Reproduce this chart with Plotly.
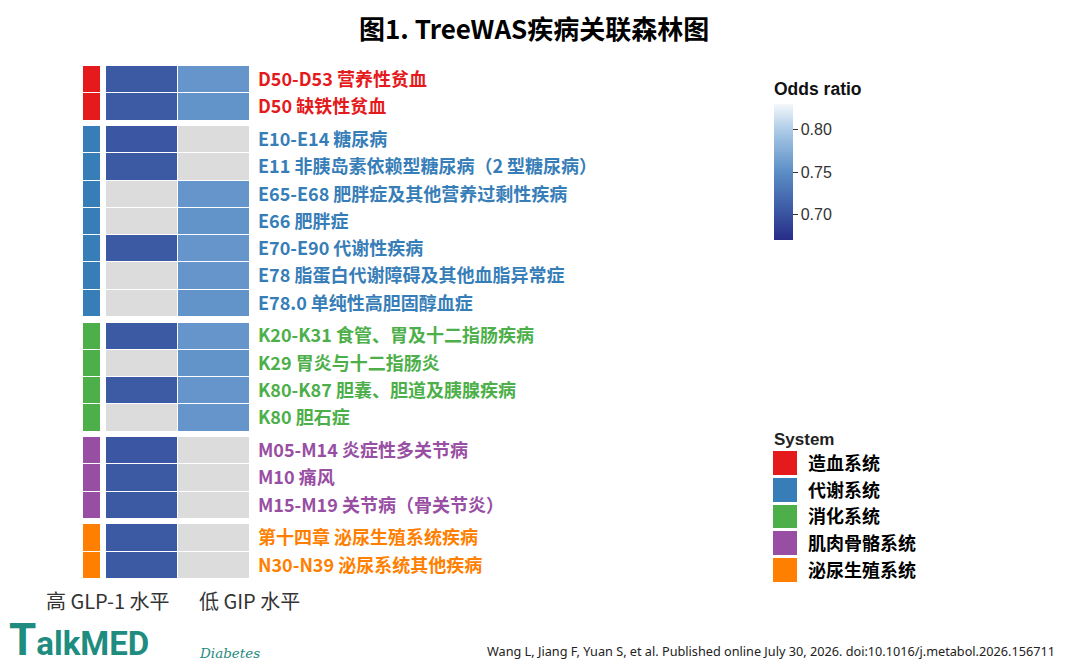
import plotly.graph_objects as go

# ---- data ----
systems = ["造血系统", "代谢系统", "消化系统", "肌肉骨骼系统", "泌尿生殖系统"]
system_colors = ["#e41a1c", "#377eb8", "#4daf4a", "#984ea3", "#ff7f00"]

diseases = [
    "D50-D53 营养性贫血",
    "D50 缺铁性贫血",
    "E10-E14 糖尿病",
    "E11 非胰岛素依赖型糖尿病（2 型糖尿病）",
    "E65-E68 肥胖症及其他营养过剩性疾病",
    "E66 肥胖症",
    "E70-E90 代谢性疾病",
    "E78 脂蛋白代谢障碍及其他血脂异常症",
    "E78.0 单纯性高胆固醇血症",
    "K20-K31 食管、胃及十二指肠疾病",
    "K29 胃炎与十二指肠炎",
    "K80-K87 胆囊、胆道及胰腺疾病",
    "K80 胆石症",
    "M05-M14 炎症性多关节病",
    "M10 痛风",
    "M15-M19 关节病（骨关节炎）",
    "第十四章 泌尿生殖系统疾病",
    "N30-N39 泌尿系统其他疾病",
]
disease_system = [0, 0, 1, 1, 1, 1, 1, 1, 1, 2, 2, 2, 2, 3, 3, 3, 4, 4]

exposures = ["高 GLP-1 水平", "低 GIP 水平"]
or_glp1 = [0.705, 0.706, 0.704, 0.705, None, None, 0.705, None, None,
           0.705, None, 0.706, None, 0.704, 0.705, 0.705, 0.705, 0.705]
or_gip = [0.756, 0.755, None, None, 0.756, 0.755, 0.756, 0.756, 0.755,
          0.756, 0.755, 0.756, 0.756, None, None, None, None, None]

or_ticks = [0.70, 0.75, 0.80]
or_range = [0.67, 0.83]

title = "图1. TreeWAS疾病关联森林图"
citation = "Wang L, Jiang F, Yuan S, et al. Published online July 30, 2026. doi:10.1016/j.metabol.2026.156711"

# ---- layout helpers ----
# page body has an 8px margin, so the figure is drawn 8px in from the corner
OFF = 8
W, H = 1067 - OFF, 668 - OFF
GAP = 0.2  # gap between system groups, in row units
FONT = "Noto Sans CJK SC, Noto Sans, sans-serif"
ARIAL = "Liberation Sans, Arial, sans-serif"


def px_x(p):
    return (p - OFF) / W


def px_y(p):
    return 1 - (p - OFF) / H


# build row edges with small blank rows between groups
edges = [0.0]
z_main, z_na, z_sys, centers = [], [], [], []
prev = None
for i, g in enumerate(disease_system):
    if prev is not None and g != prev:
        edges.append(edges[-1] + GAP)
        z_main.append([None, None])
        z_na.append([None, None])
        z_sys.append([None])
    lo = edges[-1]
    edges.append(lo + 1)
    centers.append(lo + 0.5)
    vals = [or_glp1[i], or_gip[i]]
    z_main.append(vals)
    z_na.append([1 if v is None else None for v in vals])
    z_sys.append([g])
    prev = g

ticktext = [
    '<span style="color:%s"><b>%s</b></span>' % (system_colors[g], d)
    for d, g in zip(diseases, disease_system)
]

n_sys = len(systems)
sys_scale = [[k / (n_sys - 1), c] for k, c in enumerate(system_colors)]
or_scale = [[0, "#272c88"], [0.2, "#3a55a2"], [0.5, "#5b8ec6"],
            [0.8, "#aac9e6"], [1, "#f4f7fb"]]

fig = go.Figure()

# system strip
fig.add_trace(go.Heatmap(
    z=z_sys, x=["sys"], y=edges, xaxis="x", yaxis="y",
    colorscale=sys_scale, zmin=0, zmax=n_sys - 1, showscale=False,
    ygap=1, hoverinfo="skip"))

# NA cells in grey
fig.add_trace(go.Heatmap(
    z=z_na, x=exposures, y=edges, xaxis="x2", yaxis="y2",
    colorscale=[[0, "#dcdcdc"], [1, "#dcdcdc"]], showscale=False,
    xgap=1, ygap=1, hoverinfo="skip"))

# odds ratios
fig.add_trace(go.Heatmap(
    z=z_main, x=exposures, y=edges, xaxis="x2", yaxis="y2",
    colorscale=or_scale, zmin=or_range[0], zmax=or_range[1],
    xgap=1, ygap=1,
    colorbar=dict(
        title=dict(text="<b>Odds ratio</b>", side="top",
                   font=dict(size=17.5, color="#111", family=ARIAL)),
        x=px_x(774), xanchor="left", xpad=0,
        y=px_y(79), yanchor="top", ypad=0,
        len=(240 - 79) / H, lenmode="fraction", thickness=19,
        outlinewidth=0, ticks="outside", ticklen=5, tickcolor="#333",
        tickvals=or_ticks, ticktext=["%.2f" % t for t in or_ticks],
        tickfont=dict(size=16, color="#333", family=ARIAL),
    )))

# system legend as a small heatmap
fig.add_trace(go.Heatmap(
    z=[[k] for k in range(n_sys)], x=["leg"], y=systems,
    xaxis="x3", yaxis="y3", colorscale=sys_scale, zmin=0, zmax=n_sys - 1,
    showscale=False, ygap=3, hoverinfo="skip"))

y_range = [edges[-1], 0]
hidden = dict(showgrid=False, zeroline=False, showticklabels=False, ticks="")

fig.update_layout(
    width=W, height=H,
    margin=dict(l=0, r=0, t=0, b=0),
    paper_bgcolor="white", plot_bgcolor="white",
    font=dict(family=FONT, color="#222"),
    showlegend=False,
    xaxis=dict(domain=[px_x(83), px_x(100)], **hidden),
    yaxis=dict(domain=[px_y(579), px_y(66)], range=y_range, **hidden),
    xaxis2=dict(domain=[px_x(106), px_x(250)], anchor="y2", **hidden),
    yaxis2=dict(domain=[px_y(579), px_y(66)], range=y_range, anchor="x2",
                side="right", showgrid=False, zeroline=False, ticks="",
                tickvals=centers, ticktext=ticktext, ticklabelstandoff=7,
                tickfont=dict(size=18, family=FONT)),
    xaxis3=dict(domain=[px_x(773), px_x(797)], anchor="y3", **hidden),
    yaxis3=dict(domain=[px_y(584), px_y(450)], anchor="x3",
                autorange="reversed", side="right", showgrid=False,
                zeroline=False, ticks="", ticklabelstandoff=10,
                ticktext=["<b>%s</b>" % s for s in systems], tickvals=systems,
                tickfont=dict(size=18, color="#000", family=FONT)),
)

ann = [
    dict(text="<b>%s</b>" % title, x=px_x(534), y=px_y(28), xanchor="center",
         yanchor="middle", borderpad=0,
         font=dict(size=26, color="#000", family=FONT)),
    dict(text="<b>System</b>", x=px_x(772), y=px_y(439), xanchor="left",
         yanchor="middle", font=dict(size=17, color="#222", family=ARIAL)),
    dict(text=exposures[0], x=px_x(108), y=px_y(600), xanchor="center",
         yanchor="middle", font=dict(size=20, color="#333")),
    dict(text=exposures[1], x=px_x(249), y=px_y(600), xanchor="center",
         yanchor="middle", font=dict(size=20, color="#333")),
    dict(text='<b><span style="font-size:44px">T</span>alkMED</b>',
         x=px_x(7), y=0, xanchor="left", yanchor="bottom",
         font=dict(size=33, color="#1f8c80", family="Roboto")),
    dict(text="<i>Diabetes</i>", x=px_x(197), y=px_y(653), xanchor="left",
         yanchor="middle", font=dict(size=13.5, color="#1f8c80",
                                     family="DejaVu Serif")),
    dict(text=citation, x=px_x(1057), y=px_y(651), xanchor="right",
         yanchor="middle", font=dict(size=12.7, color="#222",
                                     family="Noto Sans, sans-serif")),
]
for a in ann:
    a.update(xref="paper", yref="paper", showarrow=False)
fig.update_layout(annotations=ann)

fig.write_html("out.html")
